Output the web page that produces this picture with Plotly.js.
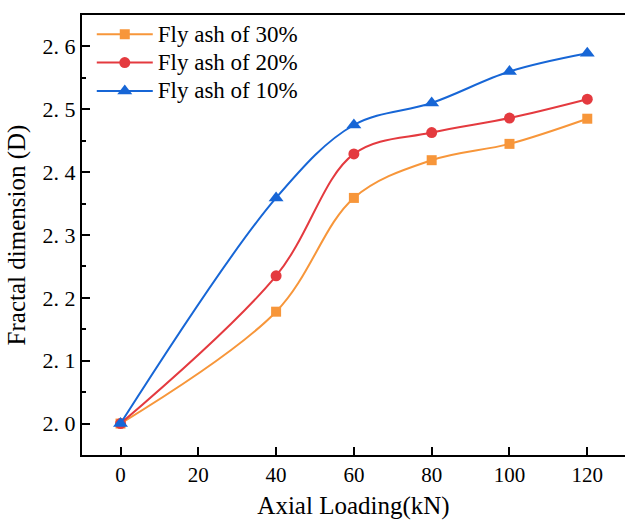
<!DOCTYPE html>
<html>
<head>
<meta charset="utf-8">
<script src="https://cdn.plot.ly/plotly-3.0.1.min.js"></script>
<style>html,body{margin:0;padding:0;background:#fff;}#chart{width:625px;height:520px;}</style>
</head>
<body>
<div id="chart"></div>
<script>
const loading = [0, 40, 60, 80, 100, 120];
const seriesNames = ["Fly ash of 30%", "Fly ash of 20%", "Fly ash of 10%"];
const flyAsh30 = [2.00, 2.178, 2.359, 2.419, 2.445, 2.485];
const flyAsh20 = [2.00, 2.235, 2.429, 2.463, 2.486, 2.516];
const flyAsh10 = [2.00, 2.359, 2.475, 2.510, 2.560, 2.589];
const yTickVals = [2.0, 2.1, 2.2, 2.3, 2.4, 2.5, 2.6];
const yTickText = ["2. 0", "2. 1", "2. 2", "2. 3", "2. 4", "2. 5", "2. 6"];
const xTickVals = [0, 20, 40, 60, 80, 100, 120];

const colors = ["#F7963A", "#E43A3F", "#1766D6"];
const symbols = ["square", "circle", "triangle-up"];
const sizes = [10, 11, 13];
const ys = [flyAsh30, flyAsh20, flyAsh10];

const traces = ys.map((y, i) => ({
  x: loading, y: y, name: '<span style="font-size:23px">' + seriesNames[i] + '</span>',
  type: "scatter", mode: "lines+markers",
  line: {color: colors[i], width: 2, shape: "spline", smoothing: 1},
  marker: {color: colors[i], symbol: symbols[i], size: sizes[i]}
}));

const font = "Liberation Serif, Times New Roman, serif";
const layout = {
  width: 625, height: 520,
  margin: {l: 82, r: 0, t: 15, b: 65},
  paper_bgcolor: "#fff", plot_bgcolor: "#fff",
  font: {family: font, color: "#000", size: 21},
  showlegend: true,
  legend: {x: 0.018, y: 1, xanchor: "left", yanchor: "top", bgcolor: "rgba(0,0,0,0)",
           font: {family: font, size: 19.5, color: "#000"}, tracegroupgap: 0, itemwidth: 56},
  xaxis: {
    range: [-9.9, 129.7], tickvals: xTickVals, ticks: "inside", ticklen: 8, tickwidth: 2, tickcolor: "#000",
    showline: true, linewidth: 2, linecolor: "#000", mirror: true, showgrid: false, zeroline: false,
    tickfont: {family: font, size: 21, color: "#000"},
    title: {text: "Axial Loading(kN)", font: {family: font, size: 25, color: "#000"}, standoff: 13}
  },
  yaxis: {
    range: [1.95, 2.65], tickvals: yTickVals, ticktext: yTickText, ticks: "inside", ticklen: 8, tickwidth: 2, tickcolor: "#000",
    minor: {ticks: "inside", ticklen: 4, tickwidth: 2, tickcolor: "#000", dtick: 0.05, tick0: 1.95, showgrid: false},
    showline: true, linewidth: 2, linecolor: "#000", mirror: false, showgrid: false, zeroline: false,
    tickfont: {family: font, size: 22, color: "#000"},
    title: {text: "Fractal dimension (D)", font: {family: font, size: 25, color: "#000"}, standoff: 10}
  }
};
Plotly.newPlot("chart", traces, layout, {displayModeBar: false, staticPlot: true});
</script>
</body>
</html>
